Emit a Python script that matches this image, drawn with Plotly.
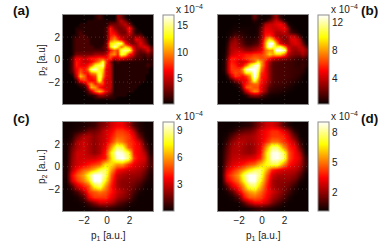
import plotly.graph_objects as go

W, H = 387, 249
FONT = "Liberation Sans"
hot = [[0, "rgb(10,0,0)"], [0.375, "rgb(255,0,0)"], [0.75, "rgb(255,255,0)"], [1, "rgb(255,255,255)"]]

x_ticks = [-2, 0, 2]
y_ticks = [-2, 0, 2]

# top row first, values in units of 1e-4
z_a = [
[0,0,0,0,0,0,0,0,1,2,1,0,0,0,4,3,1,0,0,0,0,0,0,0],
[0,0,0,0,0,0,1,1,1,1,1,1,1,1,3,5,3,1,0,0,0,0,0,0],
[0,0,0,0,1,1,1,1,1,1,1,1,3,3,3,4,5,3,1,0,0,0,0,0],
[0,0,0,1,1,1,1,1,1,1,1,2,7,4,3,3,4,7,3,1,0,0,0,0],
[0,0,0,1,2,1,1,1,1,1,1,2,7,6,4,3,3,6,3,1,1,0,0,0],
[0,0,1,1,2,2,1,1,1,1,1,2,7,8,6,4,4,4,3,3,3,1,0,0],
[0,0,1,2,2,2,2,1,1,1,1,2,8,10,8,6,4,3,3,6,5,3,1,0],
[0,0,1,2,2,2,2,1,1,1,1,3,12,13,15,14,7,4,3,4,6,4,2,0],
[0,0,1,2,2,2,2,2,1,1,2,3,12,16,13,9,12,10,6,4,5,6,5,2],
[0,0,1,2,2,2,2,2,2,2,2,3,7,9,8,14,15,14,8,4,3,4,6,3],
[0,0,1,3,3,3,3,3,4,4,4,5,9,10,7,14,12,7,6,3,2,2,3,2],
[0,1,3,6,6,5,6,7,7,8,8,7,8,5,6,6,5,4,3,2,2,1,2,1],
[0,1,3,7,6,5,5,6,8,10,14,8,4,1,2,1,1,1,1,1,1,1,1,1],
[0,1,3,7,6,6,7,9,13,14,15,7,5,1,1,1,1,1,1,1,1,1,2,1],
[0,1,3,6,8,7,9,15,16,13,12,6,5,1,1,1,1,1,1,1,1,1,1,0],
[0,1,2,6,9,7,7,10,11,14,11,6,5,1,1,1,1,1,1,1,1,1,1,0],
[0,0,1,5,11,9,6,7,8,15,10,6,5,1,1,1,1,1,1,1,1,1,0,0],
[0,0,0,2,7,8,7,6,7,14,8,5,5,1,1,1,1,1,1,1,1,1,0,0],
[0,0,0,1,2,4,8,10,7,8,8,5,5,1,1,1,1,1,1,1,1,0,0,0],
[0,0,0,0,1,1,5,11,10,7,6,5,5,1,1,1,1,1,1,1,0,0,0,0],
[0,0,0,0,0,1,2,5,9,11,9,6,4,1,1,1,1,1,1,0,0,0,0,0],
[0,0,0,0,0,0,1,1,2,4,4,3,2,1,1,1,1,0,0,0,0,0,0,0],
[0,0,0,0,0,0,0,0,1,1,1,1,1,1,0,0,0,0,0,0,0,0,0,0],
[0,0,0,0,0,0,0,0,0,0,0,0,0,0,0,0,0,0,0,0,0,0,0,0],
]

z_b = [
[.3,.3,.3,.3,.3,.3,.3,.3,.4,2,1,.4,.4,.6,2,3,1,.4,.3,.3,.3,.3,.3,.3],
[.3,.3,.3,.3,.3,.3,.3,.4,.4,1,.6,.5,.7,2,3,4,3,1,.3,.3,.3,.3,.3,.3],
[.3,.3,.3,.3,.4,.4,.4,.4,.4,.5,.6,1,3.5,4,4,4.5,5,4,1,.4,.3,.3,.3,.3],
[.3,.3,.3,.4,.5,.5,.5,.5,.5,.5,.8,2,4.5,4.5,4,4,4.5,5,3,.8,.4,.3,.3,.3],
[.3,.3,.4,.6,1,.8,.8,.6,.5,.5,.8,2.5,5,5,4.5,3.5,3.5,4,3,1.5,1,.4,.3,.3],
[.3,.3,.5,1,1.8,1.4,1,.8,.6,.6,1,2.5,5.5,6,5,3.5,3,3,3.5,4,3.5,1.5,.4,.3],
[.3,.3,.8,2.2,3,2,1.4,.9,.8,.9,1.4,3,7,9.5,8,5.5,3.5,2.5,3,4.5,4.5,3.5,1,.3],
[.3,.3,1.2,3,3.5,2.5,1.8,1.2,1,1.4,1.8,3.5,8,13,13,8,4.5,3.5,3,4,4.5,4,2.2,.6],
[.3,.4,1.5,3.5,3.5,3,2.5,2,2,2.5,3,4,8,13,11,10,11,8,4.5,3.5,3.5,4,3.5,1.8],
[.3,.4,1.8,3.5,4,4,3.5,3,3,3.5,4,4.5,7,8,8,13,13,12,5.5,3.5,3,3.5,4,3],
[.3,.5,2,4,4.5,5,5,5.5,5.5,6,6,6,7,9,8,9,9,7,4,3,2.5,2.5,3.5,2.5],
[.3,.6,3,5.5,5.5,5,5.5,6,6.5,7,7,6.5,6.5,5.5,4.5,4,3.5,3,2.5,2,1.5,1.2,1.8,1.2],
[.3,.8,3.5,5.5,5,4,4,4.5,6,7,10,8,5.5,3.5,2,1.8,1.6,1.5,1.4,1.3,1.1,.9,1.1,.9],
[.3,.8,3.5,6,5.5,4.5,5,7,10,12,13,8,5.5,3,1.8,1.6,1.5,1.5,1.4,1.3,1.1,1,1.3,.9],
[.3,.8,3.5,6,6,6,8,12,13,13,12,7,5,3,1.8,1.6,1.5,1.5,1.4,1.3,1.2,1.1,1.1,.5],
[.3,.6,3,5.5,6.5,6,7,10,10,13,11,6,5,3,1.8,1.6,1.5,1.5,1.4,1.3,1.2,1.1,.9,.4],
[.3,.3,1.2,4,6,5.5,5,6,8,13,10,5.5,5,3,1.8,1.6,1.5,1.5,1.4,1.3,1.1,.9,.5,.3],
[.3,.3,.4,1.2,3,4,4.5,5,7,11,8,5.5,4.5,3,1.8,1.6,1.5,1.4,1.3,1.1,.9,.6,.4,.3],
[.3,.3,.3,.4,.8,1.8,4.5,5.5,6.5,7,7,5,4,2.5,1.6,1.5,1.4,1.3,1.1,.9,.6,.4,.3,.3],
[.3,.3,.3,.3,.4,.8,3.5,6.5,7,6.5,6.5,4.5,3.5,1.8,1.4,1.2,1.1,1,.8,.6,.4,.3,.3,.3],
[.3,.3,.3,.3,.3,.4,1.5,4,6,7.5,7,4.5,3,1.2,1,.9,.8,.6,.5,.4,.3,.3,.3,.3],
[.3,.3,.3,.3,.3,.3,.4,1,2.5,3,3,2,1.2,.6,.5,.5,.4,.4,.3,.3,.3,.3,.3,.3],
[.3,.3,.3,.3,.3,.3,.3,.3,.4,.5,.6,.6,.5,.4,.3,.3,.3,.3,.3,.3,.3,.3,.3,.3],
[.3,.3,.3,.3,.3,.3,.3,.3,.3,.3,.3,.3,.3,.3,.3,.3,.3,.3,.3,.3,.3,.3,.3,.3],
]

z_c = [
[.1,.1,.2,.3,.5,.7,1.5,2,3,3.5,3.5,2.5,1,.4,.1,.1],
[.1,.2,.4,.8,1.5,1.5,2,3,3.5,4.5,4.5,4,2.5,.6,.2,.1],
[.1,.4,1.5,2.5,2.5,2,2.5,3,4,5,5,4.5,3.5,1.5,.3,.1],
[.2,.8,2.5,3,2.5,2,2.5,3,4.5,6,5.5,4.5,4,3,.8,.1],
[.2,1.5,2.5,3,2.5,2,2.5,3.5,6,8.5,8,5,4,3.5,1.5,.2],
[.2,1.8,3,3,2.5,2,2.5,4,7.5,10,9.5,8,4,3.5,2.5,.4],
[.2,2,3,3,3,3,3.5,4,7,9.5,10,8.5,4.5,3.5,3,.8],
[.3,2.2,3,3.5,4,4.5,5,7,7,6,6,4.5,3.5,3,2.5,1],
[.3,2.5,4,5,5.5,6.5,8,8.5,6,4,3.5,3,2.8,2.5,1.8,.6],
[.3,3.5,5,6,8,10,10,8.5,5,3,2.5,2.2,2.2,2,1.2,.3],
[.2,3,4.5,5.5,7,10,10,7.5,4.5,2.5,2,2,1.8,1.4,.6,.2],
[.1,1,3,4,5,7.5,8.5,6,4,2.5,2,1.8,1.4,.8,.2,.1],
[.1,.3,1,2.5,4.5,5,5.5,5,4,3,2.5,1.8,1,.3,.1,.1],
[.1,.1,.3,1,3.5,4.5,4.5,4.5,3.5,2.5,2,1.5,.5,.1,.1,.1],
[.1,.1,.1,.3,1,2,3,3,2.5,1.5,1,.5,.2,.1,.1,.1],
[.1,.1,.1,.1,.2,.4,.6,.8,.6,.4,.3,.1,.1,.1,.1,.1],
]

z_d = [
[.2,.2,.2,.3,.4,.6,1.2,2,2.8,3,2.5,1.2,.5,.2,.2,.2],
[.2,.2,.4,1,1.3,1.5,2,3,3.5,4,4,3.2,2,.6,.2,.2],
[.2,.4,1.2,2,2.2,2.2,2.5,3,3.6,4.2,4.2,4,3,1.5,.3,.2],
[.2,.8,2,2.6,2.5,2.2,2.5,3,4,5,5,4.2,3.6,2.6,.8,.2],
[.2,1.2,2.3,2.5,2.2,1.9,2.3,3.2,5.5,7.8,7.8,5.5,4,3.4,1.5,.2],
[.3,1.4,2.4,2.5,2.2,2,2.4,3.5,6.5,8.8,9,7.8,4.5,3.6,2.5,.4],
[.3,1.6,2.6,2.8,2.8,3,3.2,4,6.5,8.8,9,8,4.5,3.6,3,.8],
[.3,2,3,3.4,3.8,4.4,4.8,6,7,7.5,7.5,5.5,3.8,3.2,2.6,1],
[.3,2.8,3.8,4.6,5.5,6.6,7.6,7.8,6,4,3.4,3,2.8,2.6,2,.6],
[.3,3.5,4.5,5.5,7.6,9,9,7.8,5,3,2.4,2.3,2.3,2,1.2,.3],
[.2,3,4,5,7,9,9,7,4.5,2.5,2,2,1.9,1.4,.5,.2],
[.2,1.2,3,4,5.5,7.5,7.8,6,4,2.5,2,1.8,1.4,.7,.2,.2],
[.2,.4,1.2,3,4.5,5.5,6,5,3.8,3,2.4,1.7,1,.4,.2,.2],
[.2,.2,.4,1.2,3.5,4.6,4.8,4.4,3.5,2.5,1.9,1.2,.5,.2,.2,.2],
[.2,.2,.2,.3,1.2,2.5,3.4,3.4,2.8,1.8,1.1,.5,.2,.2,.2,.2],
[.2,.2,.2,.2,.2,.4,.7,.9,.7,.5,.3,.2,.2,.2,.2,.2],
]

x_range = [-3.87, 4.06]
y_range = [-3.95, 3.97]

panels = [
    dict(z=z_a, zr=[0.35, 16.9], ticks=[5, 10, 15], left=63, top=15, name=""),
    dict(z=z_b, zr=[0.3, 13.0], ticks=[4, 8, 12], left=218, top=15, name="2"),
    dict(z=z_c, zr=[0.0, 9.95], ticks=[3, 6, 9], left=63, top=122, name="3"),
    dict(z=z_d, zr=[0.15, 9.1], ticks=[2, 5, 8], left=218, top=122, name="4"),
]
PW, PH = 90, 89

fig = go.Figure()
layout = {}
grid_shapes = []
for i, p in enumerate(panels):
    n = len(p["z"])
    dx = (x_range[1] - x_range[0]) / n
    dy = (y_range[1] - y_range[0]) / n
    fig.add_trace(go.Heatmap(
        z=p["z"][::-1], x0=x_range[0] + dx / 2, dx=dx, y0=y_range[0] + dy / 2, dy=dy,
        zmin=p["zr"][0], zmax=p["zr"][1], colorscale=hot, zsmooth="best",
        xaxis="x" + p["name"], yaxis="y" + p["name"], hoverinfo="skip",
        colorbar=dict(
            thickness=11, thicknessmode="pixels", len=PH / H, lenmode="fraction",
            x=(p["left"] + 100) / W, xanchor="left", xpad=0,
            y=1 - (p["top"] + PH) / H, yanchor="bottom", ypad=0,
            outlinecolor="#8c8c8c", outlinewidth=1, borderwidth=0,
            tickvals=p["ticks"], ticks="", tickfont=dict(family=FONT, size=10, color="#222"),
        ),
    ))
    is_left = i in (0, 2)
    is_bottom = i in (2, 3)
    common = dict(showline=True, mirror=True, linecolor="#8c8c8c", linewidth=1,
                  showgrid=False, zeroline=False, ticks="",
                  tickfont=dict(family=FONT, size=10, color="#222"))
    xa = dict(common, domain=[p["left"] / W, (p["left"] + PW) / W], range=x_range,
              anchor="y" + p["name"], tickvals=x_ticks, showticklabels=is_bottom)
    ya = dict(common, domain=[1 - (p["top"] + PH) / H, 1 - p["top"] / H], range=y_range,
              anchor="x" + p["name"], tickvals=y_ticks, showticklabels=is_left)
    layout["xaxis" + p["name"]] = xa
    layout["yaxis" + p["name"]] = ya
    # dotted MATLAB-style grid at the tick values
    for t in x_ticks:
        grid_shapes.append(dict(type="line", xref="x" + p["name"], yref="y" + p["name"], x0=t, x1=t,
                                y0=y_range[0], y1=y_range[1], line=dict(color="rgba(150,150,150,.3)", width=1, dash="1px 3px")))
    for t in y_ticks:
        grid_shapes.append(dict(type="line", xref="x" + p["name"], yref="y" + p["name"], y0=t, y1=t,
                                x0=x_range[0], x1=x_range[1], line=dict(color="rgba(150,150,150,.3)", width=1, dash="1px 3px")))

def note(text, px, py, size=10, rot=0, bold=False, anchor="center"):
    return dict(text=f"<b>{text}</b>" if bold else text, x=px / W, y=1 - py / H, xref="paper", yref="paper",
                showarrow=False, textangle=rot, xanchor=anchor, yanchor="middle",
                font=dict(family=FONT, size=size, color="#222" if not bold else "#111"))

annotations = [
    note("(a)", 21, 11, 13.5, bold=True), note("(b)", 369, 11, 13.5, bold=True),
    note("(c)", 21, 118, 13.5, bold=True), note("(d)", 369, 118, 13.5, bold=True),
    note("p<sub>2</sub> [a.u]", 42, 60, 10, rot=-90), note("p<sub>2</sub> [a.u.]", 42, 167, 10, rot=-90),
    note("p<sub>1</sub> [a.u.]", 108, 236, 10), note("p<sub>1</sub> [a.u.]", 263, 236, 10),
    note("x 10<sup>−4</sup>", 174, 9, 10, anchor="left"), note("x 10<sup>−4</sup>", 329, 9, 10, anchor="left"),
    note("x 10<sup>−4</sup>", 174, 116, 10, anchor="left"), note("x 10<sup>−4</sup>", 329, 116, 10, anchor="left"),
]

fig.update_layout(width=W, height=H, margin=dict(l=0, r=0, t=0, b=0), paper_bgcolor="white",
                  plot_bgcolor="white", showlegend=False, annotations=annotations, shapes=grid_shapes, **layout)
fig.write_html("out.html", config={"displayModeBar": False},
               post_script="document.body.style.margin='0';document.body.style.overflow='hidden';")
